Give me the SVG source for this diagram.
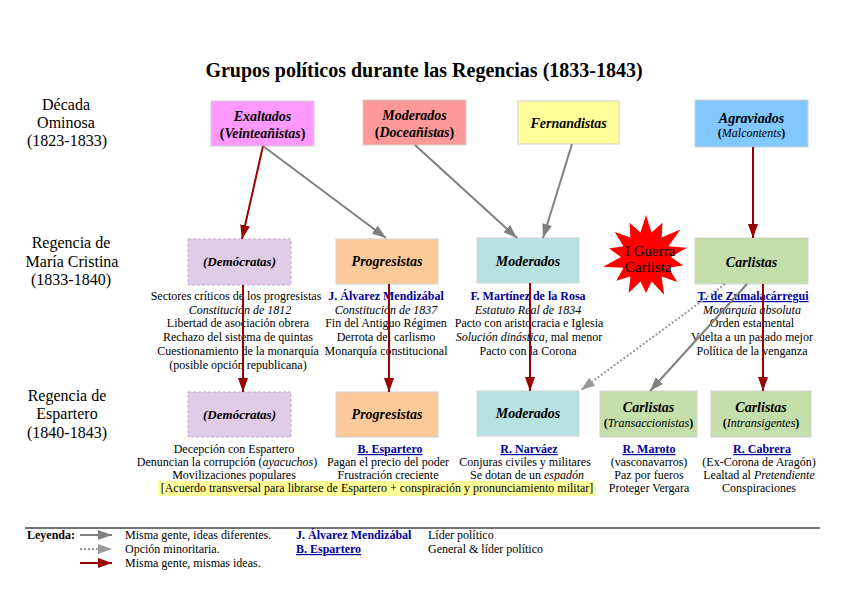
<svg xmlns="http://www.w3.org/2000/svg" width="848" height="599" viewBox="0 0 848 599">
<style>
text{font-family:"Liberation Serif","Times New Roman",serif;fill:#000}
.t{font-size:12px;text-anchor:middle}
.lab{font-size:16px;text-anchor:middle}
.h{font-size:14px;font-weight:bold;font-style:italic;text-anchor:middle}
.h13{font-size:13px;font-weight:bold;font-style:italic;text-anchor:middle}
.sub{font-size:12px;font-style:italic;text-anchor:middle}
.n{font-weight:bold;fill:#000099}
.u{text-decoration:underline}
.i{font-style:italic}
.up{font-style:normal;font-weight:bold}
.box{stroke:#d0d0d0;stroke-width:1}
.gray{stroke:#808080;stroke-width:2;fill:none}
.dot{stroke:#999;stroke-width:2;stroke-dasharray:2,2;fill:none}
.red{stroke:#990000;stroke-width:2;fill:none}
.leg{font-size:12px}
</style>
<defs>
<marker id="ag" markerUnits="userSpaceOnUse" markerWidth="14" markerHeight="10" refX="14" refY="5" orient="auto"><path d="M0,0 L14,5 L0,10 z" fill="#808080"/></marker>
<marker id="ad" markerUnits="userSpaceOnUse" markerWidth="14" markerHeight="10" refX="14" refY="5" orient="auto"><path d="M0,0 L14,5 L0,10 z" fill="#999"/></marker>
<marker id="ar" markerUnits="userSpaceOnUse" markerWidth="14" markerHeight="10" refX="14" refY="5" orient="auto"><path d="M0,0 L14,5 L0,10 z" fill="#990000"/></marker>
</defs>
<rect width="848" height="599" fill="#fff"/>

<text x="424" y="77" style="font-size:20px;font-weight:bold;text-anchor:middle">Grupos políticos durante las Regencias (1833-1843)</text>

<g id="periods">
<text class="lab" x="66" y="110">Década</text>
<text class="lab" x="66" y="128">Ominosa</text>
<text class="lab" x="67" y="146">(1823-1833)</text>
<text class="lab" x="71" y="248">Regencia de</text>
<text class="lab" x="72" y="267">María Cristina</text>
<text class="lab" x="71" y="285">(1833-1840)</text>
<text class="lab" x="67" y="401">Regencia de</text>
<text class="lab" x="67" y="419">Espartero</text>
<text class="lab" x="67" y="438">(1840-1843)</text>
</g>

<g id="exaltados">
<rect class="box" x="211" y="101" width="103" height="45" fill="#ff99ff"/>
<text class="h" x="262.5" y="121">Exaltados</text>
<text class="h" x="262.5" y="138"><tspan class="up">(</tspan>Veinteañistas<tspan class="up">)</tspan></text>
</g>
<g id="moderados-doc">
<rect class="box" x="363" y="100" width="103" height="45" fill="#ff9999"/>
<text class="h" x="414.5" y="120">Moderados</text>
<text class="h" x="414.5" y="137"><tspan class="up">(</tspan>Doceañistas<tspan class="up">)</tspan></text>
</g>
<g id="fernandistas">
<rect class="box" x="518" y="101" width="101" height="43" fill="#ffff99"/>
<text class="h" x="568.5" y="128">Fernandistas</text>
</g>
<g id="agraviados">
<rect class="box" x="695" y="100" width="113" height="47" fill="#80c8ff"/>
<text class="h" x="751.5" y="123">Agraviados</text>
<text class="sub" x="751.5" y="137"><tspan class="up">(</tspan>Malcontents<tspan class="up">)</tspan></text>
</g>

<g id="democratas-1">
<rect x="188" y="239" width="103" height="46" fill="#e0cce6" stroke="#c8a8d0" stroke-dasharray="3,2"/>
<text class="h13" x="239.5" y="266">(Demócratas)</text>
<text class="t" x="236" y="300">Sectores críticos de los progresistas</text>
<text class="t i" x="240" y="314">Constitución de 1812</text>
<text class="t" x="238" y="327">Libertad de asociación obrera</text>
<text class="t" x="238" y="341">Rechazo del sistema de quintas</text>
<text class="t" x="238" y="355">Cuestionamiento de la monarquía</text>
<text class="t" x="238" y="369">(posible opción republicana)</text>
</g>
<g id="progresistas-1">
<rect class="box" x="336" y="239" width="102" height="45" fill="#fcc998"/>
<text class="h" x="387" y="266">Progresistas</text>
<text class="t n" x="386" y="300">J. Álvarez Mendizábal</text>
<text class="t i" x="386" y="314">Constitución de 1837</text>
<text class="t" x="386" y="327">Fin del Antiguo Régimen</text>
<text class="t" x="386" y="341">Derrota del carlismo</text>
<text class="t" x="386" y="355">Monarquía constitucional</text>
</g>
<g id="moderados-1">
<rect class="box" x="477" y="238" width="102" height="45" fill="#b8e2e2"/>
<text class="h" x="528" y="266">Moderados</text>
<text class="t n" x="528" y="300">F. Martínez de la Rosa</text>
<text class="t i" x="528" y="314">Estatuto Real de 1834</text>
<text class="t" x="529" y="327">Pacto con aristocracia e Iglesia</text>
<text class="t" x="529" y="341"><tspan class="i">Solución dinástica</tspan>, mal menor</text>
<text class="t" x="528" y="355">Pacto con la Corona</text>
</g>
<g id="guerra">
<polygon points="646,215 651.6,232.6 662.5,222.8 661.6,237.5 680.4,229.6 668.5,246.2 686.9,247.7 671,257 683,265.5 668.5,267.8 677.3,281.9 661.6,276.5 664.2,294.8 651.6,281.4 646,293 640.4,281.4 628.6,293 630.4,276.5 616.3,280.7 623.5,267.8 603.1,266.8 621,257 609,248.5 623.5,246.2 614.7,232.1 630.4,237.5 629.5,222.8 640.4,232.6" fill="#ff0000"/>
<text x="625" y="256" style="font-size:15px">I Guerra</text>
<text x="625" y="272" style="font-size:15px">Carlista</text>
</g>
<g id="carlistas-1">
<rect class="box" x="695" y="238" width="113" height="46" fill="#c4dfac"/>
<text class="h" x="751.5" y="267">Carlistas</text>
<text class="t n u" x="753" y="300">T. de Zumalacárregui</text>
<text class="t i" x="752" y="314">Monarquía absoluta</text>
<text class="t" x="752" y="327">Orden estamental</text>
<text class="t" x="752" y="341">Vuelta a un pasado mejor</text>
<text class="t" x="752" y="355">Política de la venganza</text>
</g>

<g id="democratas-2">
<rect x="188" y="392" width="103" height="45" fill="#e0cce6" stroke="#c8a8d0" stroke-dasharray="3,2"/>
<text class="h13" x="239.5" y="419">(Demócratas)</text>
<text class="t" x="234" y="453">Decepción con Espartero</text>
<text class="t" x="227" y="466">Denuncian la corrupción (<tspan class="i">ayacuchos</tspan>)</text>
<text class="t" x="234" y="479">Movilizaciones populares</text>
</g>
<g id="progresistas-2">
<rect class="box" x="336" y="392" width="102" height="45" fill="#fcc998"/>
<text class="h" x="387" y="419">Progresistas</text>
<text class="t n u" x="390" y="453">B. Espartero</text>
<text class="t" x="388" y="466">Pagan el precio del poder</text>
<text class="t" x="388" y="479">Frustración creciente</text>
</g>
<g id="moderados-2">
<rect class="box" x="477" y="391" width="102" height="45" fill="#b8e2e2"/>
<text class="h" x="528" y="418">Moderados</text>
<text class="t n u" x="529" y="453">R. Narváez</text>
<text class="t" x="525" y="466">Conjuras civiles y militares</text>
<text class="t" x="527" y="479">Se dotan de un <tspan class="i">espadón</tspan></text>
</g>
<g id="transaccionistas">
<rect class="box" x="600" y="391" width="97" height="46" fill="#c4dfac"/>
<text class="h" x="648.5" y="412">Carlistas</text>
<text class="sub" x="648.5" y="427"><tspan class="up">(</tspan>Transaccionistas<tspan class="up">)</tspan></text>
<text class="t n u" x="649" y="453">R. Maroto</text>
<text class="t" x="649" y="466">(vasconavarros)</text>
<text class="t" x="649" y="479">Paz por fueros</text>
<text class="t" x="649" y="492">Proteger Vergara</text>
</g>
<g id="intransigentes">
<rect class="box" x="711" y="391" width="100" height="46" fill="#c4dfac"/>
<text class="h" x="761" y="412">Carlistas</text>
<text class="sub" x="761" y="427"><tspan class="up">(</tspan>Intransigentes<tspan class="up">)</tspan></text>
<text class="t n u" x="762" y="453">R. Cabrera</text>
<text class="t" x="759" y="466">(Ex-Corona de Aragón)</text>
<text class="t" x="759" y="479">Lealtad al <tspan class="i">Pretendiente</tspan></text>
<text class="t" x="759" y="492">Conspiraciones</text>
</g>
<g id="acuerdo">
<rect x="158" y="481" width="438" height="15" fill="#ffff99"/>
<text class="t" x="377" y="492">[Acuerdo transversal para librarse de Espartero + conspiración y pronunciamiento militar]</text>
</g>

<g id="connectors">
<line class="red" x1="263" y1="146" x2="242" y2="239" marker-end="url(#ar)"/>
<line class="gray" x1="263" y1="146" x2="386" y2="238" marker-end="url(#ag)"/>
<line class="gray" x1="415" y1="145" x2="517" y2="238" marker-end="url(#ag)"/>
<line class="gray" x1="572" y1="144" x2="543" y2="238" marker-end="url(#ag)"/>
<line class="red" x1="753" y1="147" x2="753" y2="238" marker-end="url(#ar)"/>
<line class="red" x1="243" y1="285" x2="243" y2="392" marker-end="url(#ar)"/>
<line class="red" x1="389" y1="284" x2="389" y2="392" marker-end="url(#ar)"/>
<line class="red" x1="530" y1="283" x2="530" y2="391" marker-end="url(#ar)"/>
<line class="red" x1="763" y1="284" x2="763" y2="391" marker-end="url(#ar)"/>
<line class="gray" x1="747" y1="284" x2="650" y2="391" marker-end="url(#ag)"/>
<line class="dot" x1="725" y1="284" x2="581" y2="390" marker-end="url(#ad)"/>
</g>

<g id="legend">
<line x1="25" y1="528" x2="820" y2="528" stroke="#444" stroke-width="1.5"/>
<text class="leg" x="27" y="539" font-weight="bold">Leyenda:</text>
<line class="gray" x1="80" y1="535" x2="112" y2="535" marker-end="url(#ag)"/>
<line class="dot" x1="80" y1="549" x2="112" y2="549" marker-end="url(#ad)"/>
<line class="red" x1="80" y1="563" x2="112" y2="563" marker-end="url(#ar)"/>
<text class="leg" x="125" y="539">Misma gente, ideas diferentes.</text>
<text class="leg" x="125" y="553">Opción minoritaria.</text>
<text class="leg" x="125" y="567">Misma gente, mismas ideas.</text>
<text class="leg n" x="296" y="539">J. Álvarez Mendizábal</text>
<text class="leg n u" x="296" y="553">B. Espartero</text>
<text class="leg" x="428" y="539">Líder político</text>
<text class="leg" x="428" y="553">General &amp; líder político</text>
</g>
</svg>
